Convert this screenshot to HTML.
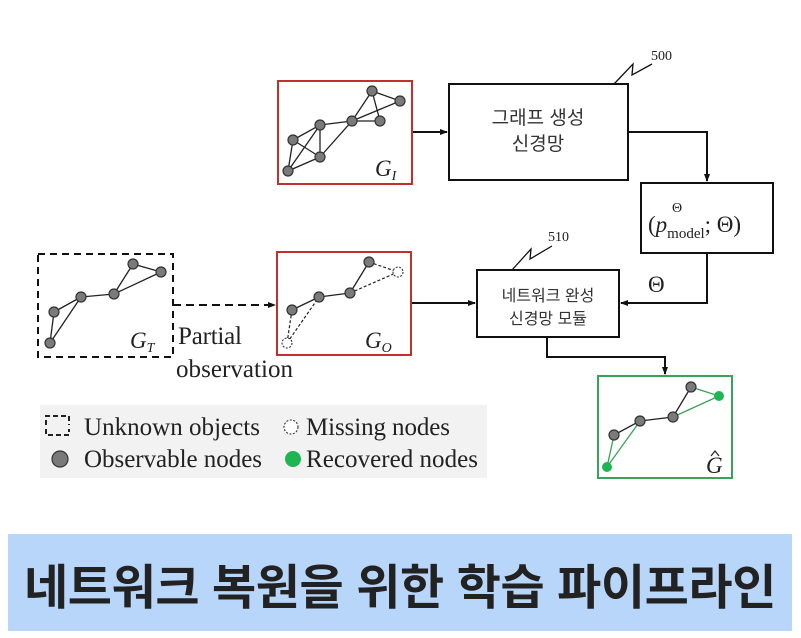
<!DOCTYPE html>
<html><head><meta charset="utf-8"><style>
body{margin:0;background:#fff;width:801px;height:638px;overflow:hidden;position:relative}
.ban{position:absolute;left:8px;top:534px;width:784px;height:97px;background:#b8d5fa;display:flex;align-items:center;justify-content:center;font:bold 48px "Liberation Sans","Noto Sans CJK KR",sans-serif;color:#222;letter-spacing:-0.4px}
</style></head><body>
<svg width="801" height="638" style="position:absolute;left:0;top:0" font-family="Liberation Serif, serif">
<defs><marker id="a" markerWidth="8" markerHeight="8" refX="7" refY="4" orient="auto" markerUnits="userSpaceOnUse"><path d="M0,1 L8,4 L0,7z" fill="#111"/></marker></defs>
<g fill="none" stroke="#111" stroke-width="2">
<rect x="449" y="84" width="179" height="96"/>
<rect x="641" y="183" width="132" height="70"/>
<rect x="477" y="270" width="142" height="67"/>
<line x1="412" y1="132" x2="447" y2="132" marker-end="url(#a)"/>
<polyline points="628,132 707,132 707,181" marker-end="url(#a)"/>
<polyline points="707,253 707,303 621,303" marker-end="url(#a)"/>
<line x1="411" y1="303" x2="475" y2="303" marker-end="url(#a)"/>
<polyline points="547,337 547,357 665,357 665,374" marker-end="url(#a)"/>
<line x1="173" y1="305" x2="275" y2="305" stroke-dasharray="8,5" marker-end="url(#a)"/>
<rect x="38" y="254" width="135" height="103" stroke-dasharray="7,5"/>
<polyline points="614,84 633,64 632,75 652,64" stroke-width="1.3"/>
<polyline points="512,270 531,249 530,259 552,246" stroke-width="1.3"/>
</g>
<rect x="278" y="81" width="134" height="103" fill="none" stroke="#c0302f" stroke-width="2"/>
<rect x="277" y="252" width="134" height="103" fill="none" stroke="#c0302f" stroke-width="2"/>
<rect x="598" y="376" width="134" height="102" fill="none" stroke="#3aa35a" stroke-width="2"/>
<rect x="40" y="405" width="447" height="73" fill="#f2f2f2"/>
<g stroke="#222" stroke-width="1.3">
<line x1="293" y1="140" x2="320" y2="125"/><line x1="293" y1="140" x2="320" y2="157"/><line x1="288" y1="171" x2="293" y2="140"/><line x1="288" y1="171" x2="320" y2="125"/><line x1="320" y1="125" x2="320" y2="157"/><line x1="320" y1="125" x2="352" y2="121"/><line x1="320" y1="157" x2="352" y2="121"/><line x1="352" y1="121" x2="372" y2="91"/><line x1="352" y1="121" x2="380" y2="121"/><line x1="372" y1="91" x2="400" y2="101"/><line x1="372" y1="91" x2="380" y2="121"/><line x1="352" y1="121" x2="400" y2="101"/><line x1="288" y1="171" x2="320" y2="157"/>
<line x1="50" y1="343" x2="54" y2="312"/><line x1="50" y1="343" x2="81" y2="297"/><line x1="54" y1="312" x2="81" y2="297"/><line x1="81" y1="297" x2="114" y2="294"/><line x1="114" y1="294" x2="133" y2="264"/><line x1="114" y1="294" x2="161" y2="272"/><line x1="133" y1="264" x2="161" y2="272"/>
<line x1="292" y1="310" x2="319" y2="297"/><line x1="319" y1="297" x2="350" y2="293"/><line x1="350" y1="293" x2="369" y2="262"/>
<line x1="614" y1="435" x2="640" y2="421"/><line x1="640" y1="421" x2="673" y2="417"/><line x1="673" y1="417" x2="691" y2="387"/>
</g>
<g stroke="#222" stroke-width="1.2" stroke-dasharray="3,2"><line x1="287" y1="343" x2="292" y2="310"/><line x1="287" y1="343" x2="319" y2="297"/><line x1="350" y1="293" x2="398" y2="272"/><line x1="369" y1="262" x2="398" y2="272"/></g>
<g stroke="#3aa35a" stroke-width="1.3"><line x1="607" y1="467" x2="614" y2="435"/><line x1="607" y1="467" x2="640" y2="421"/><line x1="673" y1="417" x2="719" y2="396"/><line x1="691" y1="387" x2="719" y2="396"/></g>
<g fill="#7a7a7a" stroke="#333" stroke-width="1.2">
<circle cx="372" cy="91" r="5"/><circle cx="400" cy="101" r="5"/><circle cx="352" cy="121" r="5"/><circle cx="380" cy="121" r="5"/><circle cx="320" cy="125" r="5"/><circle cx="293" cy="140" r="5"/><circle cx="320" cy="157" r="5"/><circle cx="288" cy="171" r="5"/>
<circle cx="50" cy="343" r="5"/><circle cx="54" cy="312" r="5"/><circle cx="81" cy="297" r="5"/><circle cx="114" cy="294" r="5"/><circle cx="133" cy="264" r="5"/><circle cx="161" cy="272" r="5"/>
<circle cx="292" cy="310" r="5"/><circle cx="319" cy="297" r="5"/><circle cx="350" cy="293" r="5"/><circle cx="369" cy="262" r="5"/>
<circle cx="614" cy="435" r="5"/><circle cx="640" cy="421" r="5"/><circle cx="673" cy="417" r="5"/><circle cx="691" cy="387" r="5"/>
<circle cx="60" cy="459" r="8"/>
</g>
<g fill="#fff" stroke="#333" stroke-width="1.1" stroke-dasharray="2,1.5"><circle cx="291" cy="427" r="7"/><circle cx="287" cy="343" r="5"/><circle cx="398" cy="272" r="5"/></g>
<g fill="#1fb552"><circle cx="607" cy="467" r="5"/><circle cx="719" cy="396" r="5"/><circle cx="293" cy="459" r="8"/></g>
<path d="M46,425 V416 H69 V425 M46,429 V435 H69 V429" fill="none" stroke="#222" stroke-width="2" stroke-dasharray="5,3"/>
<polyline points="711,456 715,451 719,456" fill="none" stroke="#222" stroke-width="1.2"/>
<g fill="#222" font-size="23">
<text x="375" y="176" font-style="italic">G<tspan font-size="14" dy="4">I</tspan></text>
<text x="130" y="348" font-style="italic">G<tspan font-size="14" dy="4">T</tspan></text>
<text x="365" y="348" font-style="italic">G<tspan font-size="14" dy="4">O</tspan></text>
<text x="706" y="473" font-style="italic">G</text>
<text x="178" y="344" textLength="64" font-size="25">Partial</text>
<text x="176" y="377" textLength="117" font-size="25">observation</text>
<text x="84" y="435" textLength="176" font-size="25">Unknown objects</text>
<text x="306" y="435" textLength="144" font-size="25">Missing nodes</text>
<text x="84" y="467" textLength="178" font-size="25">Observable nodes</text>
<text x="306" y="467" textLength="172" font-size="25">Recovered nodes</text>
<text x="648" y="232">(<tspan font-style="italic">p</tspan><tspan font-size="15" dy="6">model</tspan><tspan dy="-6">; Θ)</tspan></text>
<text x="672" y="212" font-size="14">Θ</text>
<text x="648" y="292">Θ</text>
<text x="651" y="60" font-size="14">500</text>
<text x="548" y="241" font-size="14">510</text>
</g>
<g font-family="Liberation Sans, Noto Sans CJK KR, sans-serif" fill="#333" text-anchor="middle">
<text x="538" y="124" font-size="19">그래프 생성</text>
<text x="538" y="150" font-size="19">신경망</text>
<text x="548" y="301" font-size="16">네트워크 완성</text>
<text x="548" y="324" font-size="16">신경망 모듈</text>
</g>
</svg>
<div class="ban">네트워크 복원을 위한 학습 파이프라인</div>
</body></html>
